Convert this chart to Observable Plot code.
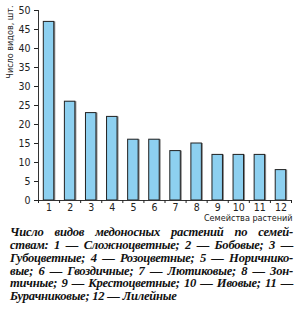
<!DOCTYPE html>
<html><head><meta charset="utf-8">
<script src="https://cdn.jsdelivr.net/npm/d3@7"></script>
<script src="https://cdn.jsdelivr.net/npm/@observablehq/plot@0.6"></script>
<style>
body{margin:0;background:#fff;width:300px;}
#cap{font-family:"Liberation Serif","Times New Roman",serif;font-weight:bold;font-style:italic;font-size:12.6px;letter-spacing:-0.25px;line-height:12.85px;color:#111;padding-left:10px;width:283px;}
#cap div{text-align:justify;text-align-last:justify;white-space:nowrap;}
#cap div.last{text-align-last:left;}
svg text{font-stretch:condensed;}
</style>
</head><body>
<div id="chart"></div>
<div id="cap"></div>
<script>
const families = [1, 2, 3, 4, 5, 6, 7, 8, 9, 10, 11, 12];
const speciesCount = [47, 26, 23, 22, 16, 16, 13, 15, 12, 12, 12, 8];
const yTicks = [0, 5, 10, 15, 20, 25, 30, 35, 40, 45, 50];
const xDomain = [0.5, 12.5];
const yDomain = [0, 50];
const boundaryTicks = [0.5, 1.5, 2.5, 3.5, 4.5, 5.5, 6.5, 7.5, 8.5, 9.5, 10.5, 11.5, 12.5];
const xLabel = "Семейства растений";
const yLabel = "Число видов, шт.";
const captionLines = [
  "Число видов медоносных растений по семей-",
  "ствам: 1 — Сложноцветные; 2 — Бобовые; 3 —",
  "Губоцветные; 4 — Розоцветные; 5 — Норичнико-",
  "вые; 6 — Гвоздичные; 7 — Лютиковые; 8 — Зон-",
  "тичные; 9 — Крестоцветные; 10 — Ивовые; 11 —",
  "Бурачниковые; 12 — Лилейные"
];

const data = families.map((f, i) => ({fam: f, n: speciesCount[i]}));
const narrow = '"Liberation Sans Narrow","DejaVu Sans Condensed","Arial Narrow","Liberation Sans",sans-serif';

const chart = Plot.plot({
  width: 300, height: 226,
  marginLeft: 38, marginRight: 9, marginTop: 10, marginBottom: 26,
  x: {type: "linear", domain: xDomain},
  y: {domain: yDomain},
  style: {fontFamily: narrow, fontSize: "10.5px", color: "#222", background: "#fff"},
  marks: [
    Plot.rectY(data, {x1: d => d.fam - 0.5, x2: d => d.fam + 0.5, y: "n", insetLeft: 5.3, insetRight: 5.3, fill: "#8a8a8a", dx: 1.5}),
    Plot.rectY(data, {x1: d => d.fam - 0.5, x2: d => d.fam + 0.5, y: "n", insetLeft: 5.3, insetRight: 5.3, fill: "#8dd0f0", stroke: "#222", strokeWidth: 1}),
    Plot.ruleY([yDomain[0]], {stroke: "#333"}),
    Plot.ruleX([xDomain[0]], {y1: yDomain[0], y2: yDomain[1], stroke: "#333"}),
    Plot.axisY({ticks: yTicks, tickSize: 4, tickPadding: 4, label: null, anchor: "left"}),
    Plot.axisX({ticks: families, tickSize: 0, tickPadding: 3, label: null, anchor: "bottom", tickFormat: d => String(d)}),
    Plot.axisX({ticks: boundaryTicks, tickSize: 3, tickFormat: () => "", label: null, anchor: "bottom"}),
    Plot.text([xLabel], {frameAnchor: "bottom-right", textAnchor: "end", lineAnchor: "middle", dy: 18, dx: 1, fontSize: 9}),
    Plot.text([yLabel], {frameAnchor: "top-left", rotate: -90, textAnchor: "end", lineAnchor: "middle", dx: -28, dy: -5, fontSize: 9})
  ]
});
document.getElementById("chart").appendChild(chart);

const cap = document.getElementById("cap");
captionLines.forEach((t, i) => {
  const d = document.createElement("div");
  d.textContent = t;
  if (i === captionLines.length - 1) d.className = "last";
  cap.appendChild(d);
});
</script>
</body></html>
